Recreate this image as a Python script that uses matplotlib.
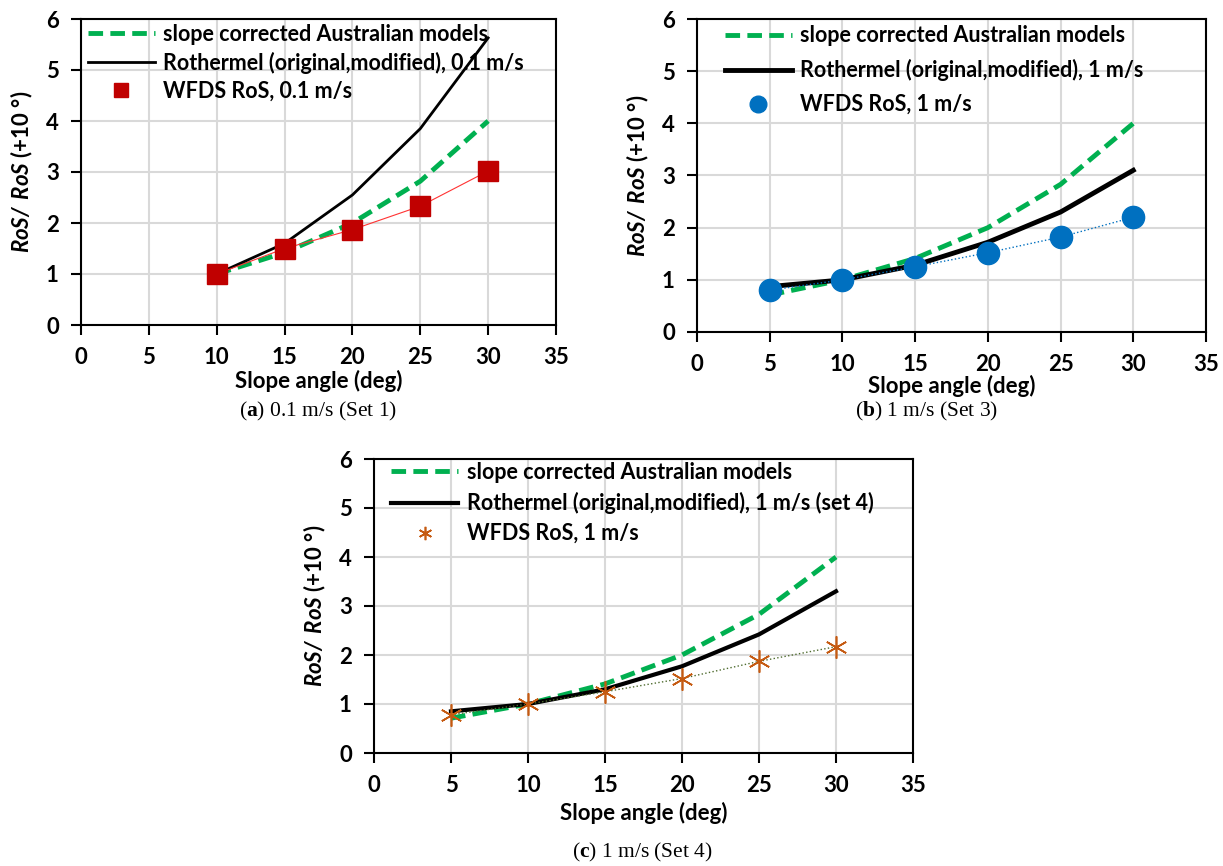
import numpy as np
from matplotlib import pyplot as plt

plt.rcParams['font.family'] = 'Lato'
plt.rcParams['font.weight'] = 'bold'
plt.rcParams['mathtext.fontset'] = 'custom'
plt.rcParams['mathtext.rm'] = 'Liberation Serif'
plt.rcParams['mathtext.bf'] = 'Liberation Serif:bold'
plt.rcParams['mathtext.bfit'] = 'Lato:bold:italic'

# panel (a): 0.1 m/s, set 1
slope_a = [10, 15, 20, 25, 30]
aus_a = [1.0, 1.42, 2.0, 2.82, 4.0]
roth_a = [1.0, 1.6, 2.55, 3.85, 5.63]
wfds_a = [1.0, 1.5, 1.87, 2.33, 3.02]

# panel (b): 1 m/s, set 3
slope_b = [5, 10, 15, 20, 25, 30]
aus_b = [0.71, 1.0, 1.41, 2.0, 2.83, 4.0]
roth_b = [0.87, 1.0, 1.28, 1.72, 2.3, 3.1]
wfds_b = [0.8, 1.0, 1.25, 1.52, 1.82, 2.2]

# panel (c): 1 m/s, set 4
slope_c = [5, 10, 15, 20, 25, 30]
aus_c = [0.71, 1.0, 1.41, 2.0, 2.83, 4.0]
roth_c = [0.85, 1.0, 1.3, 1.77, 2.42, 3.3]
wfds_c = [0.78, 1.0, 1.25, 1.52, 1.87, 2.17]

lab_aus = 'slope corrected Australian models'
lab_roth_a = 'Rothermel (original,modified), 0.1 m/s'
lab_wfds_a = 'WFDS RoS, 0.1 m/s'
lab_roth_b = 'Rothermel (original,modified), 1 m/s'
lab_wfds_b = 'WFDS RoS, 1 m/s'
lab_roth_c = 'Rothermel (original,modified), 1 m/s (set 4)'
lab_wfds_c = 'WFDS RoS, 1 m/s'

W, H = 1223, 866
fig = plt.figure(figsize=(W / 100, H / 100), dpi=100)


def make_ax(l, t, r, b):
    ax = fig.add_axes([l / W, 1 - b / H, (r - l) / W, (b - t) / H])
    ax.set_xlim(0, 35)
    ax.set_ylim(0, 6)
    ax.set_xticks(range(0, 36, 5))
    ax.set_yticks(range(0, 7))
    ax.grid(True, color='#d9d9d9', linewidth=1.5)
    ax.set_axisbelow(True)
    for s in ax.spines.values():
        s.set_linewidth(1.5)
        s.set_color('black')
    ax.tick_params(direction='out', length=7, width=1.5, labelsize=16, pad=9)
    for t in ax.get_xticklabels() + ax.get_yticklabels():
        t.set_fontweight('bold')
    ax.set_ylabel(r'$\mathbfit{RoS/\ RoS}$ (+10 °)', fontsize=16, fontweight='bold', labelpad=8)
    return ax


def legend(ax, handles, x, y, spacing, mscale):
    ax.legend(handles=handles, loc='upper left', bbox_to_anchor=(x, y), frameon=False,
              prop={'size': 15.5, 'weight': 'bold'}, handlelength=3.1, labelspacing=spacing,
              borderaxespad=0, borderpad=0, handletextpad=0.4, markerscale=mscale)


# (a)
ax = make_ax(81, 19, 556, 325)
l1, = ax.plot(slope_a, aus_a, color='#00B050', ls='--', lw=3.5, dashes=(3, 1.5), label=lab_aus)
l2, = ax.plot(slope_a, roth_a, color='black', lw=2, label=lab_roth_a)
ax.plot(slope_a, wfds_a, color='#FF3333', lw=0.8, zorder=3)
l3, = ax.plot(slope_a, wfds_a, ls='none', marker='s', ms=14, color='#C00000', zorder=4, label=lab_wfds_a)
legend(ax, [l1, l2, l3], 0.015, 0.985, 0.33, 0.75)
ax.set_xlabel('Slope angle (deg)', fontsize=16, fontweight='bold', labelpad=1)

# (b)
ax = make_ax(697, 19, 1206, 332)
l1, = ax.plot(slope_b, aus_b, color='#00B050', ls='--', lw=3.5, dashes=(3, 1.5), label=lab_aus)
l2, = ax.plot(slope_b, roth_b, color='black', lw=3.5, label=lab_roth_b)
ax.plot(slope_b, wfds_b, color='#0070C0', lw=1, ls=':', zorder=3)
l3, = ax.plot(slope_b, wfds_b, ls='none', marker='o', ms=16, color='#0070C0', zorder=4, label=lab_wfds_b)
legend(ax, [l1, l2, l3], 0.055, 0.98, 0.6, 0.75)
ax.set_xlabel('Slope angle (deg)', fontsize=16, fontweight='bold', labelpad=0)

# (c)
ax = make_ax(374, 459, 913, 753)
l1, = ax.plot(slope_c, aus_c, color='#00B050', ls='--', lw=3.5, dashes=(3, 1.5), label=lab_aus)
l2, = ax.plot(slope_c, roth_c, color='black', lw=3, label=lab_roth_c)
ax.plot(slope_c, wfds_c, color='#4E6B2E', lw=1, ls=':', zorder=3)
l3, = ax.plot(slope_c, wfds_c, ls='none', marker=(6, 2, 0), ms=16, mew=1.2, color='#C55A11',
              zorder=4, label=lab_wfds_c)
legend(ax, [l1, l2, l3], 0.032, 0.99, 0.42, 0.6)
ax.set_xlabel('Slope angle (deg)', fontsize=16, fontweight='bold', labelpad=4)

# captions
cap = dict(fontsize=15.5, family='Liberation Serif', weight='normal', ha='center', va='center')
fig.text(318 / W, 1 - 411 / H, r'($\mathbf{a}$) 0.1 m/s (Set 1)', **cap)
fig.text(927 / W, 1 - 411 / H, r'($\mathbf{b}$) 1 m/s (Set 3)', **cap)
fig.text(642 / W, 1 - 852 / H, r'($\mathbf{c}$) 1 m/s (Set 4)', **cap)

fig.savefig('out.png', dpi=100)
